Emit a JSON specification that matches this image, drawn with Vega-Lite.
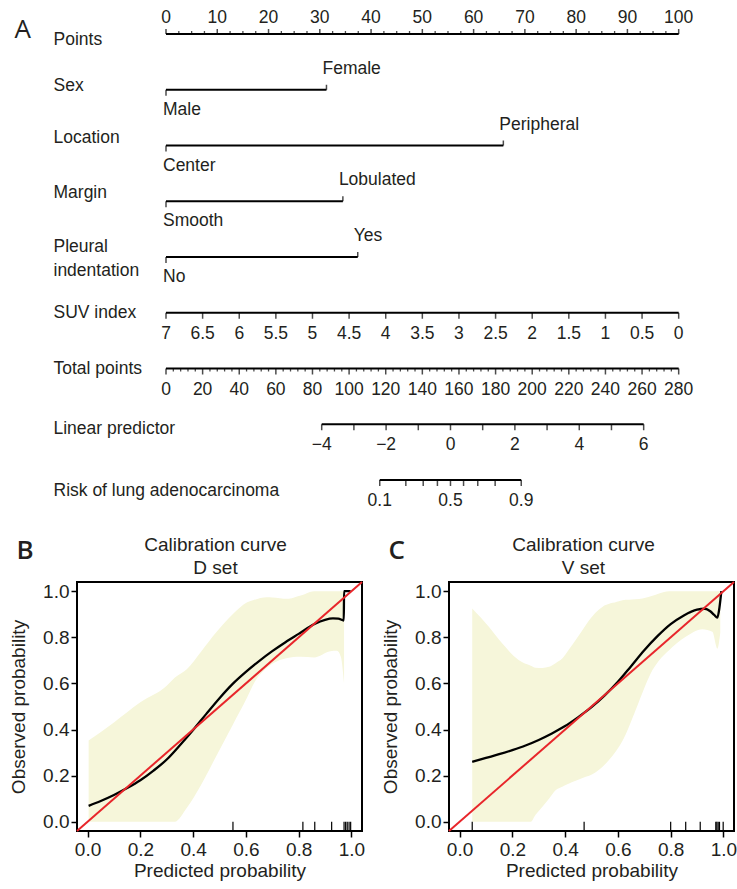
{
  "$schema": "https://vega.github.io/schema/vega-lite/v6.json",
  "background": "white",
  "padding": {"left": 8, "top": 9, "right": 0, "bottom": 0},
  "bounds": "flush",
  "spacing": 102,
  "config": {
    "font": "Liberation Sans",
    "view": {"stroke": null},
    "text": {"font": "Liberation Sans", "color": "#231f20"},
    "axis": {
      "labelFont": "Liberation Sans", "titleFont": "Liberation Sans",
      "labelFontSize": 19, "titleFontSize": 19,
      "labelColor": "#231f20", "titleColor": "#231f20",
      "titleFontWeight": "normal", "tickColor": "black", "grid": false, "labelLimit": 0
    }
  },
  "datasets": {
    "segs": [
      {"row": "Points", "p": 0, "p2": 100},
      {"row": "Sex", "p": 0, "p2": 31.3},
      {"row": "Location", "p": 0, "p2": 65.8},
      {"row": "Margin", "p": 0, "p2": 34.5},
      {"row": "Pleural indentation", "p": 0, "p2": 37.4},
      {"row": "SUV index", "p": 0, "p2": 100},
      {"row": "Total points", "p": 0, "p2": 100},
      {"row": "Linear predictor", "p": 30.37, "p2": 93.17},
      {"row": "Risk of lung adenocarcinoma", "p": 41.69, "p2": 69.29}
    ],
    "ticks": [
      {"row": "Points", "p": 0, "m": 1}, {"row": "Points", "p": 2.5, "m": 0}, {"row": "Points", "p": 5, "m": 0}, {"row": "Points", "p": 7.5, "m": 0},
      {"row": "Points", "p": 10, "m": 1}, {"row": "Points", "p": 12.5, "m": 0}, {"row": "Points", "p": 15, "m": 0}, {"row": "Points", "p": 17.5, "m": 0},
      {"row": "Points", "p": 20, "m": 1}, {"row": "Points", "p": 22.5, "m": 0}, {"row": "Points", "p": 25, "m": 0}, {"row": "Points", "p": 27.5, "m": 0},
      {"row": "Points", "p": 30, "m": 1}, {"row": "Points", "p": 32.5, "m": 0}, {"row": "Points", "p": 35, "m": 0}, {"row": "Points", "p": 37.5, "m": 0},
      {"row": "Points", "p": 40, "m": 1}, {"row": "Points", "p": 42.5, "m": 0}, {"row": "Points", "p": 45, "m": 0}, {"row": "Points", "p": 47.5, "m": 0},
      {"row": "Points", "p": 50, "m": 1}, {"row": "Points", "p": 52.5, "m": 0}, {"row": "Points", "p": 55, "m": 0}, {"row": "Points", "p": 57.5, "m": 0},
      {"row": "Points", "p": 60, "m": 1}, {"row": "Points", "p": 62.5, "m": 0}, {"row": "Points", "p": 65, "m": 0}, {"row": "Points", "p": 67.5, "m": 0},
      {"row": "Points", "p": 70, "m": 1}, {"row": "Points", "p": 72.5, "m": 0}, {"row": "Points", "p": 75, "m": 0}, {"row": "Points", "p": 77.5, "m": 0},
      {"row": "Points", "p": 80, "m": 1}, {"row": "Points", "p": 82.5, "m": 0}, {"row": "Points", "p": 85, "m": 0}, {"row": "Points", "p": 87.5, "m": 0},
      {"row": "Points", "p": 90, "m": 1}, {"row": "Points", "p": 92.5, "m": 0}, {"row": "Points", "p": 95, "m": 0}, {"row": "Points", "p": 97.5, "m": 0},
      {"row": "Points", "p": 100, "m": 1},
      {"row": "Sex", "p": 0, "m": 1}, {"row": "Sex", "p": 31.3, "m": 1},
      {"row": "Location", "p": 0, "m": 1}, {"row": "Location", "p": 65.8, "m": 1},
      {"row": "Margin", "p": 0, "m": 1}, {"row": "Margin", "p": 34.5, "m": 1},
      {"row": "Pleural indentation", "p": 0, "m": 1}, {"row": "Pleural indentation", "p": 37.4, "m": 1},
      {"row": "SUV index", "p": 0, "m": 1}, {"row": "SUV index", "p": 7.143, "m": 1}, {"row": "SUV index", "p": 14.286, "m": 1}, {"row": "SUV index", "p": 21.429, "m": 1},
      {"row": "SUV index", "p": 28.571, "m": 1}, {"row": "SUV index", "p": 35.714, "m": 1}, {"row": "SUV index", "p": 42.857, "m": 1}, {"row": "SUV index", "p": 50, "m": 1},
      {"row": "SUV index", "p": 57.143, "m": 1}, {"row": "SUV index", "p": 64.286, "m": 1}, {"row": "SUV index", "p": 71.429, "m": 1}, {"row": "SUV index", "p": 78.571, "m": 1},
      {"row": "SUV index", "p": 85.714, "m": 1}, {"row": "SUV index", "p": 92.857, "m": 1}, {"row": "SUV index", "p": 100, "m": 1},
      {"row": "Total points", "p": 0, "m": 1}, {"row": "Total points", "p": 1.429, "m": 0}, {"row": "Total points", "p": 2.857, "m": 0}, {"row": "Total points", "p": 4.286, "m": 0}, {"row": "Total points", "p": 5.714, "m": 0},
      {"row": "Total points", "p": 7.143, "m": 1}, {"row": "Total points", "p": 8.571, "m": 0}, {"row": "Total points", "p": 10, "m": 0}, {"row": "Total points", "p": 11.429, "m": 0}, {"row": "Total points", "p": 12.857, "m": 0},
      {"row": "Total points", "p": 14.286, "m": 1}, {"row": "Total points", "p": 15.714, "m": 0}, {"row": "Total points", "p": 17.143, "m": 0}, {"row": "Total points", "p": 18.571, "m": 0}, {"row": "Total points", "p": 20, "m": 0},
      {"row": "Total points", "p": 21.429, "m": 1}, {"row": "Total points", "p": 22.857, "m": 0}, {"row": "Total points", "p": 24.286, "m": 0}, {"row": "Total points", "p": 25.714, "m": 0}, {"row": "Total points", "p": 27.143, "m": 0},
      {"row": "Total points", "p": 28.571, "m": 1}, {"row": "Total points", "p": 30, "m": 0}, {"row": "Total points", "p": 31.429, "m": 0}, {"row": "Total points", "p": 32.857, "m": 0}, {"row": "Total points", "p": 34.286, "m": 0},
      {"row": "Total points", "p": 35.714, "m": 1}, {"row": "Total points", "p": 37.143, "m": 0}, {"row": "Total points", "p": 38.571, "m": 0}, {"row": "Total points", "p": 40, "m": 0}, {"row": "Total points", "p": 41.429, "m": 0},
      {"row": "Total points", "p": 42.857, "m": 1}, {"row": "Total points", "p": 44.286, "m": 0}, {"row": "Total points", "p": 45.714, "m": 0}, {"row": "Total points", "p": 47.143, "m": 0}, {"row": "Total points", "p": 48.571, "m": 0},
      {"row": "Total points", "p": 50, "m": 1}, {"row": "Total points", "p": 51.429, "m": 0}, {"row": "Total points", "p": 52.857, "m": 0}, {"row": "Total points", "p": 54.286, "m": 0}, {"row": "Total points", "p": 55.714, "m": 0},
      {"row": "Total points", "p": 57.143, "m": 1}, {"row": "Total points", "p": 58.571, "m": 0}, {"row": "Total points", "p": 60, "m": 0}, {"row": "Total points", "p": 61.429, "m": 0}, {"row": "Total points", "p": 62.857, "m": 0},
      {"row": "Total points", "p": 64.286, "m": 1}, {"row": "Total points", "p": 65.714, "m": 0}, {"row": "Total points", "p": 67.143, "m": 0}, {"row": "Total points", "p": 68.571, "m": 0}, {"row": "Total points", "p": 70, "m": 0},
      {"row": "Total points", "p": 71.429, "m": 1}, {"row": "Total points", "p": 72.857, "m": 0}, {"row": "Total points", "p": 74.286, "m": 0}, {"row": "Total points", "p": 75.714, "m": 0}, {"row": "Total points", "p": 77.143, "m": 0},
      {"row": "Total points", "p": 78.571, "m": 1}, {"row": "Total points", "p": 80, "m": 0}, {"row": "Total points", "p": 81.429, "m": 0}, {"row": "Total points", "p": 82.857, "m": 0}, {"row": "Total points", "p": 84.286, "m": 0},
      {"row": "Total points", "p": 85.714, "m": 1}, {"row": "Total points", "p": 87.143, "m": 0}, {"row": "Total points", "p": 88.571, "m": 0}, {"row": "Total points", "p": 90, "m": 0}, {"row": "Total points", "p": 91.429, "m": 0},
      {"row": "Total points", "p": 92.857, "m": 1}, {"row": "Total points", "p": 94.286, "m": 0}, {"row": "Total points", "p": 95.714, "m": 0}, {"row": "Total points", "p": 97.143, "m": 0}, {"row": "Total points", "p": 98.571, "m": 0},
      {"row": "Total points", "p": 100, "m": 1},
      {"row": "Linear predictor", "p": 30.37, "m": 1}, {"row": "Linear predictor", "p": 36.65, "m": 1}, {"row": "Linear predictor", "p": 42.93, "m": 1}, {"row": "Linear predictor", "p": 49.21, "m": 1},
      {"row": "Linear predictor", "p": 55.49, "m": 1}, {"row": "Linear predictor", "p": 61.77, "m": 1}, {"row": "Linear predictor", "p": 68.05, "m": 1}, {"row": "Linear predictor", "p": 74.33, "m": 1},
      {"row": "Linear predictor", "p": 80.61, "m": 1}, {"row": "Linear predictor", "p": 86.89, "m": 1}, {"row": "Linear predictor", "p": 93.17, "m": 1},
      {"row": "Risk of lung adenocarcinoma", "p": 41.69, "m": 1}, {"row": "Risk of lung adenocarcinoma", "p": 46.78, "m": 1}, {"row": "Risk of lung adenocarcinoma", "p": 50.17, "m": 1},
      {"row": "Risk of lung adenocarcinoma", "p": 52.94, "m": 1}, {"row": "Risk of lung adenocarcinoma", "p": 55.49, "m": 1}, {"row": "Risk of lung adenocarcinoma", "p": 58.04, "m": 1},
      {"row": "Risk of lung adenocarcinoma", "p": 60.81, "m": 1}, {"row": "Risk of lung adenocarcinoma", "p": 64.2, "m": 1}, {"row": "Risk of lung adenocarcinoma", "p": 69.29, "m": 1}
    ],
    "labels": [
      {"row": "Points", "p": 0, "t": "0"}, {"row": "Points", "p": 10, "t": "10"}, {"row": "Points", "p": 20, "t": "20"}, {"row": "Points", "p": 30, "t": "30"},
      {"row": "Points", "p": 40, "t": "40"}, {"row": "Points", "p": 50, "t": "50"}, {"row": "Points", "p": 60, "t": "60"}, {"row": "Points", "p": 70, "t": "70"},
      {"row": "Points", "p": 80, "t": "80"}, {"row": "Points", "p": 90, "t": "90"}, {"row": "Points", "p": 100, "t": "100"},
      {"row": "Sex", "p": 0, "t": "Male"}, {"row": "Sex", "p": 31.3, "t": "Female"},
      {"row": "Location", "p": 0, "t": "Center"}, {"row": "Location", "p": 65.8, "t": "Peripheral"},
      {"row": "Margin", "p": 0, "t": "Smooth"}, {"row": "Margin", "p": 34.5, "t": "Lobulated"},
      {"row": "Pleural indentation", "p": 0, "t": "No"}, {"row": "Pleural indentation", "p": 37.4, "t": "Yes"},
      {"row": "SUV index", "p": 0, "t": "7"}, {"row": "SUV index", "p": 7.143, "t": "6.5"}, {"row": "SUV index", "p": 14.286, "t": "6"}, {"row": "SUV index", "p": 21.429, "t": "5.5"},
      {"row": "SUV index", "p": 28.571, "t": "5"}, {"row": "SUV index", "p": 35.714, "t": "4.5"}, {"row": "SUV index", "p": 42.857, "t": "4"}, {"row": "SUV index", "p": 50, "t": "3.5"},
      {"row": "SUV index", "p": 57.143, "t": "3"}, {"row": "SUV index", "p": 64.286, "t": "2.5"}, {"row": "SUV index", "p": 71.429, "t": "2"}, {"row": "SUV index", "p": 78.571, "t": "1.5"},
      {"row": "SUV index", "p": 85.714, "t": "1"}, {"row": "SUV index", "p": 92.857, "t": "0.5"}, {"row": "SUV index", "p": 100, "t": "0"},
      {"row": "Total points", "p": 0, "t": "0"}, {"row": "Total points", "p": 7.143, "t": "20"}, {"row": "Total points", "p": 14.286, "t": "40"}, {"row": "Total points", "p": 21.429, "t": "60"},
      {"row": "Total points", "p": 28.571, "t": "80"}, {"row": "Total points", "p": 35.714, "t": "100"}, {"row": "Total points", "p": 42.857, "t": "120"}, {"row": "Total points", "p": 50, "t": "140"},
      {"row": "Total points", "p": 57.143, "t": "160"}, {"row": "Total points", "p": 64.286, "t": "180"}, {"row": "Total points", "p": 71.429, "t": "200"}, {"row": "Total points", "p": 78.571, "t": "220"},
      {"row": "Total points", "p": 85.714, "t": "240"}, {"row": "Total points", "p": 92.857, "t": "260"}, {"row": "Total points", "p": 100, "t": "280"},
      {"row": "Linear predictor", "p": 30.37, "t": "−4"}, {"row": "Linear predictor", "p": 42.93, "t": "−2"}, {"row": "Linear predictor", "p": 55.49, "t": "0"},
      {"row": "Linear predictor", "p": 68.05, "t": "2"}, {"row": "Linear predictor", "p": 80.61, "t": "4"}, {"row": "Linear predictor", "p": 93.17, "t": "6"},
      {"row": "Risk of lung adenocarcinoma", "p": 41.69, "t": "0.1"}, {"row": "Risk of lung adenocarcinoma", "p": 55.49, "t": "0.5"}, {"row": "Risk of lung adenocarcinoma", "p": 69.29, "t": "0.9"}
    ],
    "curveB": [
      {"x": 0.004, "y": 0.069}, {"x": 0.05, "y": 0.09}, {"x": 0.1, "y": 0.116}, {"x": 0.15, "y": 0.146}, {"x": 0.2, "y": 0.18},
      {"x": 0.25, "y": 0.222}, {"x": 0.3, "y": 0.27}, {"x": 0.35, "y": 0.332}, {"x": 0.4, "y": 0.398}, {"x": 0.45, "y": 0.468},
      {"x": 0.5, "y": 0.536}, {"x": 0.55, "y": 0.598}, {"x": 0.6, "y": 0.65}, {"x": 0.65, "y": 0.697}, {"x": 0.7, "y": 0.74},
      {"x": 0.75, "y": 0.779}, {"x": 0.8, "y": 0.815}, {"x": 0.86, "y": 0.858}, {"x": 0.9, "y": 0.876}, {"x": 0.93, "y": 0.882},
      {"x": 0.95, "y": 0.881}, {"x": 0.971, "y": 0.873}, {"x": 0.972, "y": 1.0}, {"x": 0.997, "y": 1.0}
    ],
    "bandB": [
      {"x": 0.004, "lo": 0, "hi": 0.352}, {"x": 0.1, "lo": 0, "hi": 0.431}, {"x": 0.2, "lo": 0, "hi": 0.518},
      {"x": 0.3, "lo": 0, "hi": 0.59}, {"x": 0.33, "lo": 0, "hi": 0.625}, {"x": 0.377, "lo": 0.062, "hi": 0.663},
      {"x": 0.43, "lo": 0.16, "hi": 0.738}, {"x": 0.49, "lo": 0.29, "hi": 0.825}, {"x": 0.55, "lo": 0.42, "hi": 0.9},
      {"x": 0.605, "lo": 0.54, "hi": 0.952}, {"x": 0.63, "lo": 0.6, "hi": 0.962}, {"x": 0.68, "lo": 0.668, "hi": 0.974},
      {"x": 0.7, "lo": 0.685, "hi": 0.973}, {"x": 0.757, "lo": 0.71, "hi": 0.967}, {"x": 0.78, "lo": 0.715, "hi": 0.972},
      {"x": 0.808, "lo": 0.716, "hi": 0.981}, {"x": 0.858, "lo": 0.713, "hi": 1.0}, {"x": 0.92, "lo": 0.74, "hi": 1.0},
      {"x": 0.945, "lo": 0.742, "hi": 1.0}, {"x": 0.96, "lo": 0.715, "hi": 1.0}, {"x": 0.972, "lo": 0.6, "hi": 1.0}
    ],
    "rugB": [
      {"x": 0.551}, {"x": 0.816}, {"x": 0.861}, {"x": 0.925}, {"x": 0.972}, {"x": 0.978}, {"x": 0.984}, {"x": 0.991}, {"x": 0.997}
    ],
    "curveC": [
      {"x": 0.048, "y": 0.26}, {"x": 0.1, "y": 0.277}, {"x": 0.15, "y": 0.293}, {"x": 0.2, "y": 0.311}, {"x": 0.25, "y": 0.331},
      {"x": 0.3, "y": 0.355}, {"x": 0.35, "y": 0.383}, {"x": 0.4, "y": 0.415}, {"x": 0.45, "y": 0.454}, {"x": 0.5, "y": 0.497},
      {"x": 0.55, "y": 0.548}, {"x": 0.6, "y": 0.607}, {"x": 0.65, "y": 0.675}, {"x": 0.7, "y": 0.744}, {"x": 0.75, "y": 0.805},
      {"x": 0.8, "y": 0.857}, {"x": 0.85, "y": 0.895}, {"x": 0.9, "y": 0.92}, {"x": 0.93, "y": 0.924}, {"x": 0.95, "y": 0.913},
      {"x": 0.965, "y": 0.897}, {"x": 0.977, "y": 0.886}, {"x": 0.985, "y": 0.93}, {"x": 0.992, "y": 1.0}
    ],
    "bandC": [
      {"x": 0.048, "lo": 0, "hi": 0.925}, {"x": 0.111, "lo": 0, "hi": 0.846}, {"x": 0.162, "lo": 0, "hi": 0.773},
      {"x": 0.225, "lo": 0, "hi": 0.701}, {"x": 0.27, "lo": 0, "hi": 0.677}, {"x": 0.288, "lo": 0.03, "hi": 0.668},
      {"x": 0.314, "lo": 0.065, "hi": 0.667}, {"x": 0.339, "lo": 0.1, "hi": 0.672}, {"x": 0.364, "lo": 0.137, "hi": 0.688},
      {"x": 0.389, "lo": 0.152, "hi": 0.708}, {"x": 0.415, "lo": 0.166, "hi": 0.748}, {"x": 0.44, "lo": 0.178, "hi": 0.788},
      {"x": 0.478, "lo": 0.195, "hi": 0.852}, {"x": 0.491, "lo": 0.2, "hi": 0.874}, {"x": 0.541, "lo": 0.238, "hi": 0.932},
      {"x": 0.604, "lo": 0.325, "hi": 0.956}, {"x": 0.617, "lo": 0.35, "hi": 0.961}, {"x": 0.667, "lo": 0.484, "hi": 0.965},
      {"x": 0.693, "lo": 0.56, "hi": 0.968}, {"x": 0.731, "lo": 0.658, "hi": 0.98}, {"x": 0.756, "lo": 0.7, "hi": 0.99},
      {"x": 0.794, "lo": 0.744, "hi": 1.0}, {"x": 0.857, "lo": 0.802, "hi": 1.0}, {"x": 0.92, "lo": 0.835, "hi": 1.0},
      {"x": 0.958, "lo": 0.824, "hi": 1.0}, {"x": 0.977, "lo": 0.751, "hi": 1.0}, {"x": 0.988, "lo": 0.82, "hi": 1.0}
    ],
    "rugC": [
      {"x": 0.048}, {"x": 0.472}, {"x": 0.8}, {"x": 0.857}, {"x": 0.912}, {"x": 0.971}, {"x": 0.975}, {"x": 0.98}, {"x": 0.985}, {"x": 0.999}
    ],
    "diag": [{"p": -0.04}, {"p": 1.04}]
  },
  "vconcat": [
    {
      "width": 661,
      "height": 446,
      "view": {"stroke": null},
      "encoding": {
        "x": {"field": "p", "type": "quantitative", "scale": {"domain": [-17.36, 111.57], "nice": false, "zero": false}, "axis": null},
        "y": {
          "field": "row", "type": "nominal",
          "scale": {"type": "point", "padding": 0, "domain": ["Points", "Sex", "Location", "Margin", "Pleural indentation", "SUV index", "Total points", "Linear predictor", "Risk of lung adenocarcinoma"]},
          "axis": {
            "title": "A", "titleAngle": 0, "titleX": -63, "titleY": 3, "titleAlign": "left", "titleBaseline": "alphabetic",
            "titleFont": "Open Sans", "titleFontSize": 26, "titleFontWeight": "normal",
            "domain": false, "ticks": false, "tickSize": 0, "grid": false,
            "labelAlign": "left", "labelPadding": 24, "labelBaseline": "middle", "labelFontSize": 17.5, "labelLineHeight": 24, "labelLimit": 0,
            "labelOffset": {"condition": [
              {"test": "datum.value == 'Points'", "value": 5},
              {"test": "datum.value == 'Sex'", "value": -4},
              {"test": "datum.value == 'Location'", "value": -8},
              {"test": "datum.value == 'Margin'", "value": -9},
              {"test": "datum.value == 'Pleural indentation'", "value": -11},
              {"test": "datum.value == 'Linear predictor'", "value": 4},
              {"test": "datum.value == 'Risk of lung adenocarcinoma'", "value": 10}
            ], "value": 0},
            "labelExpr": "datum.value == 'Pleural indentation' ? ['Pleural', 'indentation'] : datum.label"
          }
        }
      },
      "layer": [
        {"data": {"name": "segs"}, "mark": {"type": "rule", "color": "black", "strokeWidth": 1.8}, "encoding": {"x2": {"field": "p2"}}},
        {"data": {"name": "ticks"}, "transform": [{"filter": "(datum.row == 'Points' || (indexof(['Sex','Location','Margin','Pleural indentation'], datum.row) >= 0 && datum.p > 0)) && datum.m == 1"}],
         "mark": {"type": "tick", "orient": "vertical", "size": 5, "thickness": 1.5, "yOffset": -2.5, "color": "black"}},
        {"data": {"name": "ticks"}, "transform": [{"filter": "datum.row == 'Points' && datum.m == 0"}],
         "mark": {"type": "tick", "orient": "vertical", "size": 3, "thickness": 1.3, "yOffset": -1.5, "color": "black"}},
        {"data": {"name": "ticks"}, "transform": [{"filter": "!(datum.row == 'Points' || (indexof(['Sex','Location','Margin','Pleural indentation'], datum.row) >= 0 && datum.p > 0)) && datum.m == 1"}],
         "mark": {"type": "tick", "orient": "vertical", "size": 6, "thickness": 1.5, "yOffset": 3, "color": "black"}},
        {"data": {"name": "ticks"}, "transform": [{"filter": "datum.row != 'Points' && datum.m == 0"}],
         "mark": {"type": "tick", "orient": "vertical", "size": 3, "thickness": 1.3, "yOffset": 1.5, "color": "black"}},
        {"data": {"name": "labels"}, "transform": [{"filter": "datum.row == 'Points'"}],
         "mark": {"type": "text", "align": "center", "baseline": "middle", "dy": -16, "fontSize": 17.5}, "encoding": {"text": {"field": "t"}}},
        {"data": {"name": "labels"}, "transform": [{"filter": "datum.row != 'Points' && indexof(['Sex','Location','Margin','Pleural indentation'], datum.row) < 0"}],
         "mark": {"type": "text", "align": "center", "baseline": "middle", "dy": 21, "fontSize": 17.5}, "encoding": {"text": {"field": "t"}}},
        {"data": {"name": "labels"}, "transform": [{"filter": "indexof(['Sex','Location','Margin','Pleural indentation'], datum.row) >= 0 && datum.p > 0"}],
         "mark": {"type": "text", "align": "left", "baseline": "middle", "dx": -4, "dy": -21, "fontSize": 17.5}, "encoding": {"text": {"field": "t"}}},
        {"data": {"name": "labels"}, "transform": [{"filter": "indexof(['Sex','Location','Margin','Pleural indentation'], datum.row) >= 0 && datum.p == 0"}],
         "mark": {"type": "text", "align": "left", "baseline": "middle", "dx": -3, "dy": 20, "fontSize": 17.5}, "encoding": {"text": {"field": "t"}}}
      ]
    },
    {
      "bounds": "flush",
      "spacing": 87,
      "hconcat": [
        {
          "width": 285, "height": 249,
          "view": {"stroke": "black", "strokeWidth": 2},
          "resolve": {"axis": {"x": "independent", "y": "independent"}},
          "layer": [
            {"data": {"name": "bandB"}, "mark": {"type": "area", "color": "#f6f6da", "interpolate": "monotone"},
             "encoding": {
               "x": {"field": "x", "type": "quantitative", "scale": {"domain": [-0.04, 1.04], "nice": false, "zero": false},
                     "axis": {"orient": "bottom", "values": [0, 0.2, 0.4, 0.6, 0.8, 1], "format": ".1f", "domain": false, "tickSize": 6, "tickWidth": 1.5, "labelPadding": 3, "labelFlush": false, "labelOverlap": false, "title": "Predicted probability", "titlePadding": 2}},
               "y": {"field": "lo", "type": "quantitative", "scale": {"domain": [-0.04, 1.04], "nice": false, "zero": false},
                     "axis": {"orient": "left", "values": [0, 0.2, 0.4, 0.6, 0.8, 1], "format": ".1f", "domain": false, "tickSize": 6, "tickWidth": 1.5, "labelPadding": 2, "labelOverlap": false, "title": "Observed probability", "titlePadding": 14}},
               "y2": {"field": "hi"}
             }},
            {"data": {"name": "curveB"}, "mark": {"type": "line", "color": "black", "strokeWidth": 2.3, "interpolate": "monotone"},
             "encoding": {
               "x": {"field": "x", "type": "quantitative", "scale": {"domain": [-0.04, 1.04], "nice": false, "zero": false},
                     "axis": {"orient": "top", "domain": false, "ticks": false, "labels": false, "title": ["Calibration curve", "D set"], "titleX": 138, "titleY": -47, "titleAlign": "center", "titleBaseline": "top", "titleLineHeight": 23, "titleFontSize": 19}},
               "y": {"field": "y", "type": "quantitative", "scale": {"domain": [-0.04, 1.04], "nice": false, "zero": false},
                     "axis": {"orient": "right", "domain": false, "ticks": false, "labels": false, "title": "B", "titleAngle": 0, "titleX": -346, "titleY": -24, "titleAlign": "left", "titleBaseline": "alphabetic", "titleFont": "Open Sans", "titleFontSize": 26, "titleFontWeight": 600}}
             }},
            {"data": {"name": "diag"}, "mark": {"type": "line", "color": "#e8262b", "strokeWidth": 2},
             "encoding": {
               "x": {"field": "p", "type": "quantitative", "scale": {"domain": [-0.04, 1.04], "nice": false, "zero": false}, "axis": null},
               "y": {"field": "p", "type": "quantitative", "scale": {"domain": [-0.04, 1.04], "nice": false, "zero": false}, "axis": null}
             }},
            {"data": {"name": "rugB"}, "mark": {"type": "rule", "color": "black", "strokeWidth": 1.2},
             "encoding": {
               "x": {"field": "x", "type": "quantitative", "scale": {"domain": [-0.04, 1.04], "nice": false, "zero": false}, "axis": null},
               "y": {"datum": -0.04, "type": "quantitative", "scale": {"domain": [-0.04, 1.04], "nice": false, "zero": false}, "axis": null},
               "y2": {"datum": 0}
             }}
          ]
        },
        {
          "width": 285, "height": 249,
          "view": {"stroke": "black", "strokeWidth": 2},
          "resolve": {"axis": {"x": "independent", "y": "independent"}},
          "layer": [
            {"data": {"name": "bandC"}, "mark": {"type": "area", "color": "#f6f6da", "interpolate": "monotone"},
             "encoding": {
               "x": {"field": "x", "type": "quantitative", "scale": {"domain": [-0.04, 1.04], "nice": false, "zero": false},
                     "axis": {"orient": "bottom", "values": [0, 0.2, 0.4, 0.6, 0.8, 1], "format": ".1f", "domain": false, "tickSize": 6, "tickWidth": 1.5, "labelPadding": 3, "labelFlush": false, "labelOverlap": false, "title": "Predicted probability", "titlePadding": 2}},
               "y": {"field": "lo", "type": "quantitative", "scale": {"domain": [-0.04, 1.04], "nice": false, "zero": false},
                     "axis": {"orient": "left", "values": [0, 0.2, 0.4, 0.6, 0.8, 1], "format": ".1f", "domain": false, "tickSize": 6, "tickWidth": 1.5, "labelPadding": 2, "labelOverlap": false, "title": "Observed probability", "titlePadding": 14}},
               "y2": {"field": "hi"}
             }},
            {"data": {"name": "curveC"}, "mark": {"type": "line", "color": "black", "strokeWidth": 2.3, "interpolate": "monotone"},
             "encoding": {
               "x": {"field": "x", "type": "quantitative", "scale": {"domain": [-0.04, 1.04], "nice": false, "zero": false},
                     "axis": {"orient": "top", "domain": false, "ticks": false, "labels": false, "title": ["Calibration curve", "V set"], "titleX": 134, "titleY": -47, "titleAlign": "center", "titleBaseline": "top", "titleLineHeight": 23, "titleFontSize": 19}},
               "y": {"field": "y", "type": "quantitative", "scale": {"domain": [-0.04, 1.04], "nice": false, "zero": false},
                     "axis": {"orient": "right", "domain": false, "ticks": false, "labels": false, "title": "C", "titleAngle": 0, "titleX": -346, "titleY": -24, "titleAlign": "left", "titleBaseline": "alphabetic", "titleFont": "Open Sans", "titleFontSize": 26, "titleFontWeight": 600}}
             }},
            {"data": {"name": "diag"}, "mark": {"type": "line", "color": "#e8262b", "strokeWidth": 2},
             "encoding": {
               "x": {"field": "p", "type": "quantitative", "scale": {"domain": [-0.04, 1.04], "nice": false, "zero": false}, "axis": null},
               "y": {"field": "p", "type": "quantitative", "scale": {"domain": [-0.04, 1.04], "nice": false, "zero": false}, "axis": null}
             }},
            {"data": {"name": "rugC"}, "mark": {"type": "rule", "color": "black", "strokeWidth": 1.2},
             "encoding": {
               "x": {"field": "x", "type": "quantitative", "scale": {"domain": [-0.04, 1.04], "nice": false, "zero": false}, "axis": null},
               "y": {"datum": -0.04, "type": "quantitative", "scale": {"domain": [-0.04, 1.04], "nice": false, "zero": false}, "axis": null},
               "y2": {"datum": 0}
             }}
          ]
        }
      ]
    }
  ]
}
